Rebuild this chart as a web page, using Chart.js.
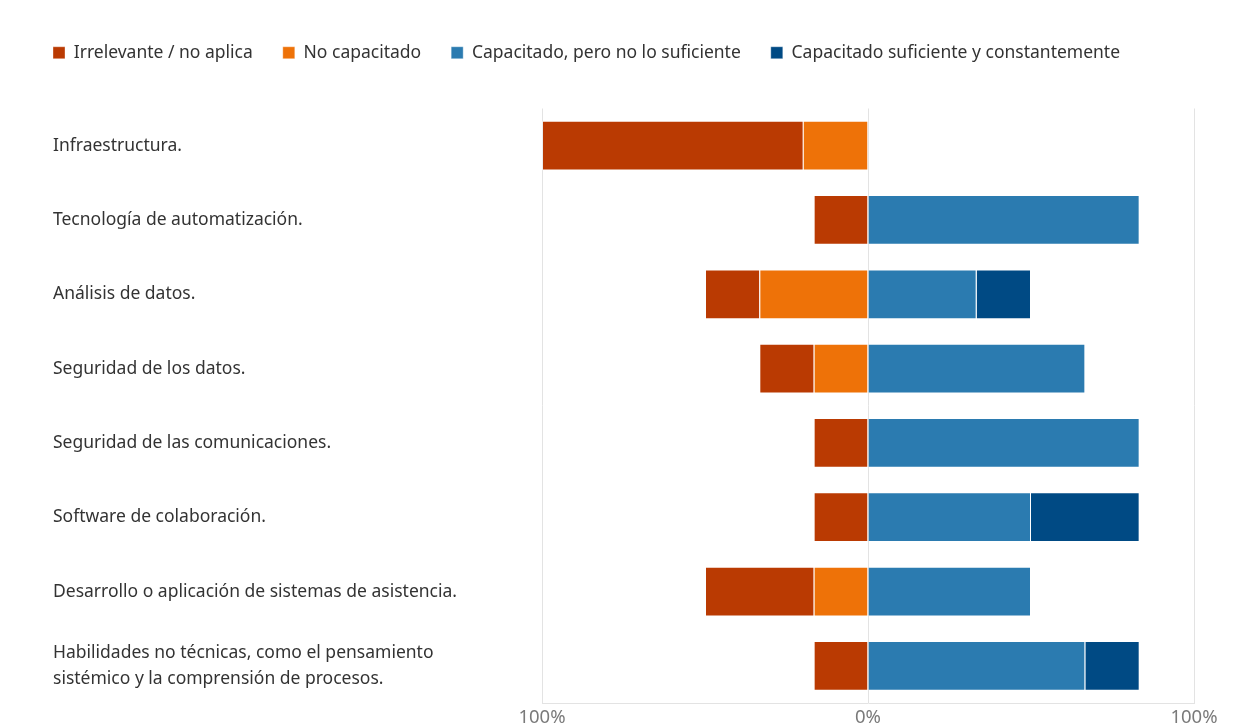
<!DOCTYPE html>
<html>
<head>
<meta charset="utf-8">
<title>Capacitación por área</title>
<script src="https://cdn.jsdelivr.net/npm/chart.js"></script>
<style>
    html, body { margin: 0; padding: 0; background: #fff; }
    #wrap { width: 1249px; height: 728px; position: relative; }
</style>
</head>
<body>
<div id="wrap"><canvas id="trainingChart"></canvas></div>
<script>
// Categories (top to bottom)
const categories = [
    'Infraestructura.',
    'Tecnología de automatización.',
    'Análisis de datos.',
    'Seguridad de los datos.',
    'Seguridad de las comunicaciones.',
    'Software de colaboración.',
    'Desarrollo o aplicación de sistemas de asistencia.',
    ['Habilidades no técnicas, como el pensamiento', 'sistémico y la comprensión de procesos.']
];

// Shares in percent
const irrelevante    = [80, 16.67, 16.67, 16.67, 16.67, 16.67, 33.33, 16.67];
const noCapacitado   = [20, 0, 33.33, 16.67, 0, 0, 16.67, 0];
const capacitadoPero = [0, 83.33, 33.33, 66.67, 83.33, 50, 50, 66.67];
const capacitadoSuf  = [0, 0, 16.67, 0, 0, 33.33, 0, 16.67];

// Axis ticks (negative side shows absolute value)
const xTicks = [-100, 0, 100];

const colors = {
    irrelevante: '#BA3A02',
    noCapacitado: '#EE7208',
    capacitadoPero: '#2B7BB0',
    capacitadoSuf: '#004A84'
};

function toBars(values, sign) {
    return values.map(function(v) { return v === 0 ? null : sign * v; });
}

// legend order differs from stacking order (negative side stacks outward)
const legendRank = [1, 0, 2, 3];

document.addEventListener('DOMContentLoaded', function() {
    const ctx = document.getElementById('trainingChart').getContext('2d');

    // Push the plot area down under the legend and move legend to the left edge
    const legendSpacing = {
        id: 'legendSpacing',
        beforeInit: function(chart) {
            const origFit = chart.legend.fit;
            chart.legend.fit = function() {
                origFit.bind(chart.legend)();
                this.height += 37;
            };
        },
        afterLayout: function(chart) {
            chart.legend.left = 23;
        }
    };

    new Chart(ctx, {
        type: 'bar',
        data: {
            labels: categories,
            datasets: [{
                label: 'No capacitado',
                data: toBars(noCapacitado, -1),
                backgroundColor: colors.noCapacitado,
                borderColor: 'rgba(255,255,255,0.35)',
                borderWidth: 1
            }, {
                label: 'Irrelevante / no aplica',
                data: toBars(irrelevante, -1),
                backgroundColor: colors.irrelevante,
                borderColor: 'rgba(255,255,255,0.35)',
                borderWidth: 1
            }, {
                label: 'Capacitado, pero no lo suficiente',
                data: toBars(capacitadoPero, 1),
                backgroundColor: colors.capacitadoPero,
                borderColor: 'rgba(255,255,255,0.35)',
                borderWidth: 1
            }, {
                label: 'Capacitado suficiente y constantemente',
                data: toBars(capacitadoSuf, 1),
                backgroundColor: colors.capacitadoSuf,
                borderColor: 'rgba(255,255,255,0.35)',
                borderWidth: 1
            }]
        },
        options: {
            indexAxis: 'y',
            responsive: true,
            maintainAspectRatio: false,
            animation: false,
            layout: {
                padding: { left: 53, right: 55, top: 14, bottom: 0 }
            },
            datasets: {
                bar: {
                    barPercentage: 1,
                    categoryPercentage: 0.67
                }
            },
            scales: {
                x: {
                    stacked: true,
                    min: -100,
                    max: 100,
                    afterBuildTicks: function(scale) {
                        scale.ticks = xTicks.map(function(v) { return { value: v }; });
                    },
                    afterFit: function(scale) {
                        scale.height = 25;
                    },
                    grid: {
                        color: '#e3e3e3',
                        lineWidth: 1,
                        drawTicks: false
                    },
                    border: {
                        display: true,
                        color: '#e3e3e3'
                    },
                    ticks: {
                        padding: 5,
                        color: '#7a7a7a',
                        font: { family: 'Noto Sans', size: 18.5, lineHeight: 1.1 },
                        callback: function(value) {
                            return Math.abs(value) + '%';
                        }
                    }
                },
                y: {
                    stacked: true,
                    grid: { display: false },
                    border: { display: false },
                    afterFit: function(scale) {
                        scale.width = 489;
                    },
                    ticks: {
                        crossAlign: 'far',
                        color: '#333333',
                        font: { family: 'Noto Sans', size: 17.5, lineHeight: 1.5 }
                    }
                }
            },
            plugins: {
                legend: {
                    position: 'top',
                    align: 'start',
                    labels: {
                        boxWidth: 12,
                        boxHeight: 12,
                        padding: 30,
                        color: '#333333',
                        font: { family: 'Noto Sans', size: 17.5 },
                        sort: function(a, b) {
                            return legendRank[a.datasetIndex] - legendRank[b.datasetIndex];
                        }
                    }
                },
                tooltip: {
                    callbacks: {
                        label: function(context) {
                            return context.dataset.label + ': ' + Math.abs(context.parsed.x).toFixed(1) + '%';
                        }
                    }
                }
            }
        },
        plugins: [legendSpacing]
    });
});
</script>
</body>
</html>
